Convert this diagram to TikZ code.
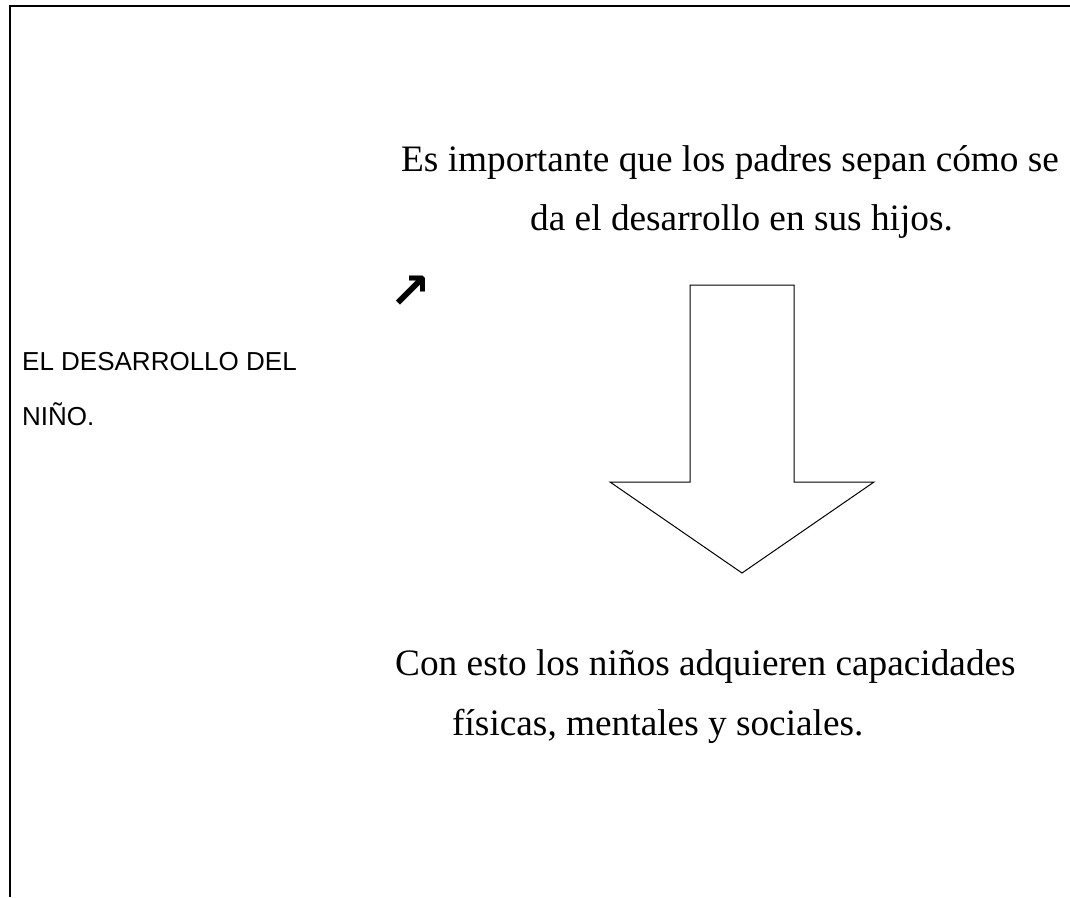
\documentclass[tikz,border=0pt]{standalone}
\usepackage{fontspec}
\setmainfont{Liberation Serif}
\newfontfamily\arialfont{Liberation Sans}
\newfontfamily\symbfont{DejaVu Sans}
\tikzset{
    texto/.style={anchor=base west, inner sep=0pt, font=\fontsize{37.3}{40}\selectfont},
    titulo/.style={anchor=base west, inner sep=0pt, font=\arialfont\fontsize{26}{28}\selectfont},
}
\begin{document}
\begin{tikzpicture}[x=1pt,y=-1pt]
            \useasboundingbox (0,0) rectangle (1070,897);

            % draw page border
            \draw[line width=2pt] (1070,6) -- (10,6) -- (10,897);

            % place title
            \node[titulo] (titA) at (22,370) {EL DESARROLLO DEL};
            \node[titulo] (titB) at (22,425) {NIÑO.};

            % place small arrow
            \node[inner sep=0pt, font=\symbfont\bfseries\fontsize{50}{50}\selectfont] (flechita) at (410,292) {↗};

            % place upper text
            \node[texto] (supA) at (401,171) {Es importante que los padres sepan cómo se};
            \node[texto] (supB) at (530,230) {da el desarrollo en sus hijos.};

            % draw big arrow
            \draw[line width=1pt, line join=miter] (690,285) -- (794,285) -- (794,482) -- (874,482)
                -- (742,573) -- (610,482) -- (690,482) -- cycle;

            % place lower text
            \node[texto] (infA) at (395,675) {Con esto los niños adquieren capacidades};
            \node[texto] (infB) at (452,735) {físicas, mentales y sociales.};
        \end{tikzpicture}
\end{document}
